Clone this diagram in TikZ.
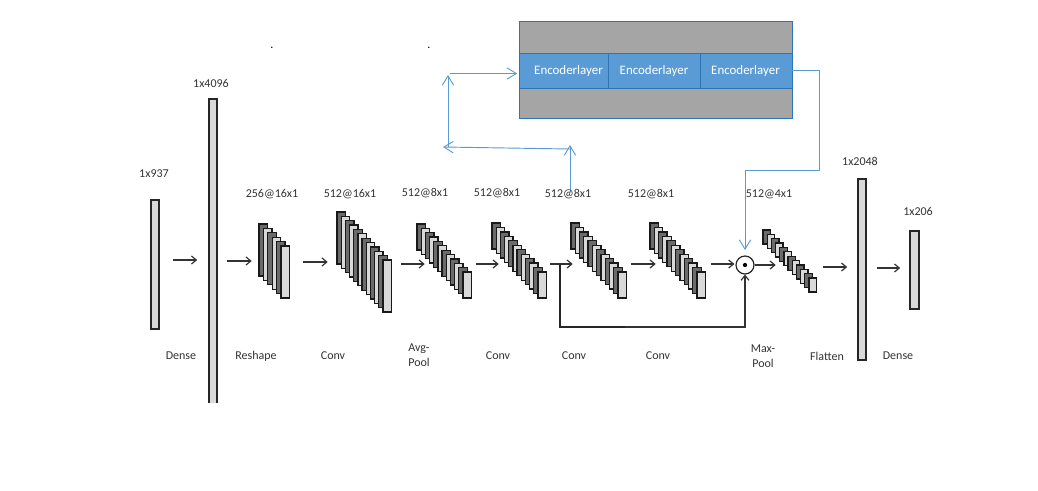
\documentclass[tikz,border=0pt]{standalone}
\usepackage{fontspec}
\setmainfont{Carlito}
\usetikzlibrary{positioning,fit,arrows.meta}
\definecolor{encblue}{HTML}{5B9BD5}
\definecolor{encedge}{HTML}{2E75B6}
\definecolor{encgray}{HTML}{A5A5A5}
\definecolor{inkgray}{HTML}{333333}
% name, first x, first y, last x, last y, width, height, count
\newcommand{\mapstack}[8]{
  \foreach \i in {1,...,#8} {
    \pgfmathsetmacro{\sx}{#2+(\i-1)*(#4-#2)/(#8-1)}
    \pgfmathsetmacro{\sy}{#3+(\i-1)*(#5-#3)/(#8-1)}
    \pgfmathparse{int(mod(\i,2))}
    \ifnum\pgfmathresult=1
      \draw[sk,fill=stackdark] (\sx,\sy) rectangle ++(#6,#7);
    \else
      \draw[sk,fill=stacklight] (\sx,\sy) rectangle ++(#6,#7);
    \fi
  }
  \pgfmathsetmacro{\ex}{#4+#6}
  \pgfmathsetmacro{\ey}{#5+#7}
  \node[fit={(#2,#3) (\ex,\ey)},inner sep=0pt] (#1) {};
}
\colorlet{stackdark}{black!58}
\colorlet{stacklight}{black!15}
\begin{document}
\begin{tikzpicture}[x=0.75pt,y=-0.75pt]
\tikzstyle{sk} = [draw=black!90,line width=1pt]
\tikzstyle{br} = [draw=black!85,fill=stacklight,line width=1.2pt,inner sep=0pt]
\tikzstyle{lb} = [text=inkgray,font=\fontsize{9}{11}\selectfont,inner sep=0pt,align=center]
\tikzstyle{ar} = [draw=inkgray,line width=0.9pt,-{Straight Barb[length=3.6pt,width=6pt]}]
\tikzstyle{bl} = [draw=encblue,line width=0.7pt,-{Straight Barb[length=7pt,width=8.5pt]}]
\tikzstyle{gb} = [draw=encedge,fill=encgray,line width=0.7pt,inner sep=0pt]
\tikzstyle{en} = [draw=encedge,fill=encblue,line width=0.7pt,inner sep=0pt]
\tikzstyle{et} = [text=white,font=\fontsize{9.7}{11}\selectfont,inner sep=0pt]
\useasboundingbox (0,0) rectangle (1038,490);

\node[br,fit={(151,200) (159,329)}] (densea) {};
\begin{scope}
\clip (200,90) rectangle (226,402);
\node[br,fit={(209,99) (217,420)}] (code) {};
\end{scope}
\mapstack{reshape}{259}{224}{281}{246}{8.5}{52}{6}
\mapstack{conva}{337}{212}{383}{260}{8.5}{52}{12}
\mapstack{avgpool}{417}{224}{463}{272}{8.5}{26}{12}
\mapstack{convb}{492}{223}{538}{272}{8.5}{26}{12}
\mapstack{convc}{571}{223}{618}{272}{8.5}{26}{12}
\mapstack{convd}{650}{223}{697}{272}{8.5}{26}{12}
\mapstack{maxpool}{763}{230}{809}{278}{7.5}{14}{12}
\node[draw=black!85,fill=white,shape=circle,line width=0.9pt,minimum size=13.5pt,inner sep=0pt] (merge) at (745,265) {};
\node[fill=black,shape=circle,minimum size=3.2pt,inner sep=0pt] (mergedot) at (merge) {};
\node[br,fit={(858,179) (866,360)}] (flat) {};
\node[br,fit={(910,231) (919,309)}] (denseb) {};

\foreach \a/\b/\yy/\sa/\sb in {densea/code/260/13/11,code/reshape/261/9/7,reshape/conva/262/13/9,conva/avgpool/264/9/-8,avgpool/convb/264/4/-7,convb/convc/264/3/-2,convc/convd/264/4/-6,convd/merge/264/5/1,merge/maxpool/265/0/-13,maxpool/flat/267/6/10,flat/denseb/268/10/9} {
  \draw[ar,shorten <=\sa*0.75pt,shorten >=\sb*0.75pt] (\a.east |- 0,\yy) -- (\b.west |- 0,\yy);
}
\coordinate (tap) at (560,264);
\coordinate (low) at (560,327);
\coordinate (lowb) at (625,327);
\draw[draw=black!85,line width=1.1pt] (tap) -- (low) -- (lowb);
\draw[ar] (lowb) -| (merge.south);

\node[gb,fit={(519,21.5) (792,118)}] (block) {};
\node[en,fit={(519,53) (608,88)}] (enca) {};
\node[en,fit={(608,53) (700,88)}] (encb) {};
\node[en,fit={(700,53) (792,88)}] (encc) {};
\node[et] (enctexta) at (568.5,71) {Encoderlayer};
\node[et] (enctextb) at (654,71) {Encoderlayer};
\node[et] (enctextc) at (745.5,71) {Encoderlayer};

\coordinate (pick) at (570,192);
\coordinate (picktop) at (570,145);
\coordinate (backb) at (570,149);
\coordinate (backa) at (443,147);
\coordinate (risea) at (448,147);
\coordinate (riseb) at (448,75);
\coordinate (feed) at (450,73.5);
\coordinate (turn) at (819,170);
\draw[bl] (pick) -- (picktop);
\draw[bl] (backb) -- (backa);
\draw[bl] (risea) -- (riseb);
\draw[bl,shorten >=1pt] (feed) -- (enca.west |- feed);
\draw[bl,shorten >=4pt] (encc.east) -| (turn) -| (merge.north);

\node[lb] (sizea) at (154,174) {1x937};
\node[lb] (sizeb) at (211,83) {1x4096};
\node[lb] (sizec) at (272,194) {256@16x1};
\node[lb] (sized) at (350,194) {512@16x1};
\node[lb] (sizee) at (425,193) {512@8x1};
\node[lb] (sizef) at (497,193) {512@8x1};
\node[lb] (sizeg) at (568,194) {512@8x1};
\node[lb] (sizeh) at (651,194) {512@8x1};
\node[lb] (sizei) at (769,194) {512@4x1};
\node[lb] (sizej) at (860,161) {1x2048};
\node[lb] (sizek) at (918,211) {1x206};
\node[lb] (namea) at (181,356) {Dense};
\node[lb] (nameb) at (256,356) {Reshape};
\node[lb] (namec) at (333,356) {Conv};
\node[lb,align=left] (named) at (419,355.5) {Avg-\\Pool};
\node[lb] (namee) at (498,356) {Conv};
\node[lb] (namef) at (574,356) {Conv};
\node[lb] (nameg) at (658,356) {Conv};
\node[lb] (nameh) at (763,356) {Max-\\Pool};
\node[lb] (namei) at (827,356) {Flatten};
\node[lb] (namej) at (898,356) {Dense};
\node[lb,text=black] (dota) at (272,48) {.};
\node[lb,text=black] (dotb) at (429,48) {.};
\end{tikzpicture}
\end{document}
